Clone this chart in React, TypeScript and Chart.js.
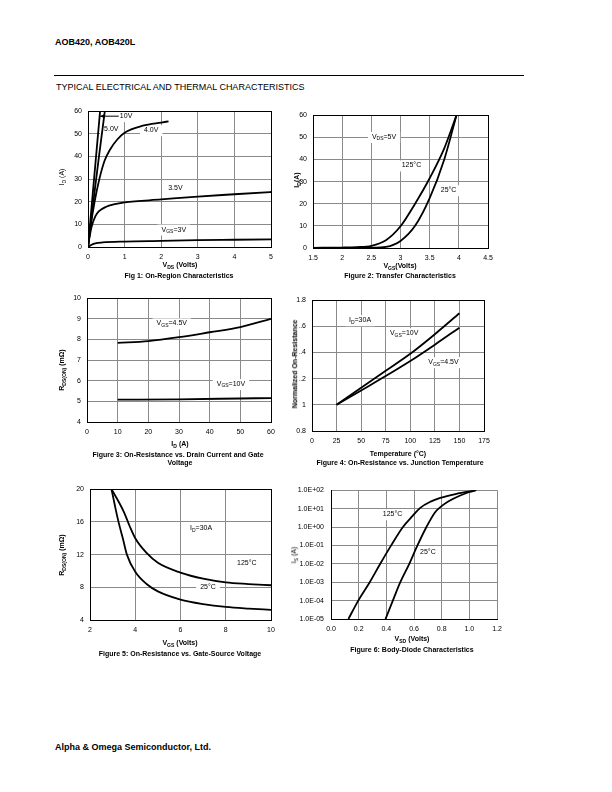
import React, { useEffect, useRef } from "react";
import { Chart, registerables } from "chart.js";
Chart.register(...registerables);

const FONT = '"Liberation Sans", Arial, Helvetica, sans-serif';
const GRID = "#8a8a8a";

// ---------- Fig 1: On-Region Characteristics ----------
const fig1XTicks = [0, 1, 2, 3, 4, 5];
const fig1XLabels = ["0", "1", "2", "3", "4", "5"];
const fig1YTicks = [0, 10, 20, 30, 40, 50, 60];
const fig1YLabels = ["0", "10", "20", "30", "40", "50", "60"];
const fig1Vds10V = [0, 0.165, 0.33];
const fig1Id10V = [0, 30, 60];
const fig1Vds5V = [0, 0.15, 0.3, 0.46];
const fig1Id5V = [0, 20.5, 40, 60];
const fig1Vds4V = [0, 0.08, 0.18, 0.31, 0.45, 0.6, 0.8, 1.0, 1.5, 2.0, 2.2];
const fig1Id4V = [0, 10, 20, 30, 38, 43, 47.5, 50.5, 53.6, 55, 55.5];
const fig1Vds35V = [0, 0.05, 0.1, 0.2, 0.3, 0.5, 0.7, 1, 2, 3, 4, 5];
const fig1Id35V = [0, 5, 9, 13.5, 15.8, 17.8, 18.8, 19.7, 21, 22.3, 23.3, 24.3];
const fig1Vds3V = [0, 0.1, 0.2, 0.4, 1, 2, 3, 4, 5];
const fig1Id3V = [0, 1.0, 1.6, 2.0, 2.4, 2.7, 3.0, 3.2, 3.4];

// ---------- Fig 2: Transfer Characteristics ----------
const fig2XTicks = [1.5, 2, 2.5, 3, 3.5, 4, 4.5];
const fig2XLabels = ["1.5", "2", "2.5", "3", "3.5", "4", "4.5"];
const fig2YTicks = [0, 10, 20, 30, 40, 50, 60];
const fig2YLabels = ["0", "10", "20", "30", "40", "50", "60"];
const fig2Vgs125 = [1.5, 2.0, 2.25, 2.5, 2.75, 3.0, 3.25, 3.5, 3.75, 3.96];
const fig2Id125 = [0.1, 0.2, 0.4, 1.0, 3.5, 9.8, 20, 31.5, 45, 60];
const fig2Vgs25 = [1.5, 2.5, 2.75, 3.0, 3.25, 3.5, 3.75, 3.96];
const fig2Id25 = [0, 0.1, 0.5, 3.2, 10, 22.5, 40, 60];

// ---------- Fig 3: On-Resistance vs Drain Current ----------
const fig3XTicks = [0, 10, 20, 30, 40, 50, 60];
const fig3XLabels = ["0", "10", "20", "30", "40", "50", "60"];
const fig3YTicks = [4, 5, 6, 7, 8, 9, 10];
const fig3YLabels = ["4", "5", "6", "7", "8", "9", "10"];
const fig3Id45V = [10, 20, 30, 40, 50, 60];
const fig3Rds45V = [7.83, 7.92, 8.11, 8.35, 8.6, 9.0];
const fig3Id10V = [10, 30, 50, 60];
const fig3Rds10V = [5.08, 5.1, 5.14, 5.16];

// ---------- Fig 4: On-Resistance vs Junction Temperature ----------
const fig4XTicks = [0, 25, 50, 75, 100, 125, 150, 175];
const fig4XLabels = ["0", "25", "50", "75", "100", "125", "150", "175"];
const fig4YTicks = [0.8, 1, 1.2, 1.4, 1.6, 1.8];
const fig4YLabels = ["0.8", "1", "1.2", "1.4", "1.6", "1.8"];
const fig4Temp = [25, 50, 75, 100, 125, 150];
const fig4Norm10V = [1.0, 1.13, 1.26, 1.39, 1.54, 1.7];
const fig4Norm45V = [1.0, 1.11, 1.22, 1.335, 1.46, 1.59];

// ---------- Fig 5: On-Resistance vs Gate-Source Voltage ----------
const fig5XTicks = [2, 4, 6, 8, 10];
const fig5XLabels = ["2", "4", "6", "8", "10"];
const fig5YTicks = [4, 8, 12, 16, 20];
const fig5YLabels = ["4", "8", "12", "16", "20"];
const fig5Vgs125 = [2.95, 3.2, 3.5, 3.75, 4, 4.5, 5, 6, 7, 8, 9, 10];
const fig5Rds125 = [20, 18.8, 17.2, 15.5, 14, 12.2, 11, 9.8, 9.05, 8.6, 8.4, 8.25];
const fig5Vgs25 = [2.95, 3.1, 3.26, 3.45, 3.63, 4.0, 4.5, 5, 6, 7, 8, 9, 10];
const fig5Rds25 = [20, 18, 16, 14, 12, 9.9, 8.4, 7.5, 6.5, 5.95, 5.6, 5.4, 5.25];

// ---------- Fig 6: Body-Diode Characteristics ----------
const fig6XTicks = [0, 0.2, 0.4, 0.6, 0.8, 1.0, 1.2];
const fig6XLabels = ["0.0", "0.2", "0.4", "0.6", "0.8", "1.0", "1.2"];
const fig6YTicks = [1e-5, 1e-4, 1e-3, 1e-2, 1e-1, 1, 10, 100];
const fig6YLabels = ["1.0E-05", "1.0E-04", "1.0E-03", "1.0E-02", "1.0E-01", "1.0E+00", "1.0E+01", "1.0E+02"];
const fig6Vsd125 = [0.126, 0.197, 0.28, 0.356, 0.435, 0.52, 0.59, 0.645, 0.72, 0.79, 0.9, 1.05];
const fig6Is125 = [1e-5, 1e-4, 1e-3, 1e-2, 1e-1, 1, 4, 11, 24, 38, 62, 100];
const fig6Vsd25 = [0.394, 0.447, 0.501, 0.566, 0.625, 0.69, 0.75, 0.79, 0.85, 0.93, 1.0, 1.05];
const fig6Is25 = [1e-5, 1e-4, 1e-3, 1e-2, 1e-1, 1, 6, 12, 25, 50, 80, 100];

// ---------- helpers ----------
type Part = { t: string; sub?: boolean };
type Note = { x: number; y: number; parts: Part[] };
type Arrow = { x1: number; y1: number; x2: number; y2: number };
type Box = { l: number; t: number; r: number; b: number };

const PADL = 50, PADT = 8, PADR = 16, PADB = 22;

const V = (rest: string, sub: string, pre = "V"): Part[] => [{ t: pre }, { t: sub, sub: true }, { t: rest }];

function notesPlugin(notes: Note[], frame: string | null, arrows: Arrow[] = []) {
  return {
    id: "notes",
    beforeDatasetsDraw(chart: any) {
      const ctx = chart.ctx;
      const xs = chart.scales.x, ys = chart.scales.y;
      const ca = chart.chartArea;
      ctx.save();
      for (const n of notes) {
        const px = xs.getPixelForValue(n.x), py = ys.getPixelForValue(n.y);
        let w = 0;
        for (const p of n.parts) {
          ctx.font = p.sub ? `5px ${FONT}` : `7px ${FONT}`;
          w += ctx.measureText(p.t).width;
        }
        ctx.fillStyle = "#fff";
        ctx.fillRect(px - 4, py - 5, w + 8, 11);
        let cx = px;
        ctx.fillStyle = "#000";
        ctx.textBaseline = "middle";
        ctx.textAlign = "left";
        for (const p of n.parts) {
          ctx.font = p.sub ? `5px ${FONT}` : `7px ${FONT}`;
          ctx.fillText(p.t, cx, p.sub ? py + 2 : py);
          cx += ctx.measureText(p.t).width;
        }
      }
      if (frame) {
        ctx.strokeStyle = frame;
        ctx.lineWidth = 1;
        const l = Math.round(ca.left) + 0.5, t = Math.round(ca.top) + 0.5;
        ctx.strokeRect(l, t, Math.round(ca.right) - Math.round(ca.left), Math.round(ca.bottom) - Math.round(ca.top));
      }
      ctx.restore();
    },
    afterDatasetsDraw(chart: any) {
      const ctx = chart.ctx;
      const xs = chart.scales.x, ys = chart.scales.y;
      ctx.save();
      ctx.strokeStyle = "#000";
      ctx.fillStyle = "#000";
      ctx.lineWidth = 1;
      for (const a of arrows) {
        const x1 = xs.getPixelForValue(a.x1), y1 = ys.getPixelForValue(a.y1);
        const x2 = xs.getPixelForValue(a.x2), y2 = ys.getPixelForValue(a.y2);
        ctx.beginPath();
        ctx.moveTo(x1, y1);
        ctx.lineTo(x2, y2);
        ctx.stroke();
        const ang = Math.atan2(y2 - y1, x2 - x1);
        ctx.beginPath();
        ctx.moveTo(x2, y2);
        ctx.lineTo(x2 - 5 * Math.cos(ang - 0.45), y2 - 5 * Math.sin(ang - 0.45));
        ctx.lineTo(x2 - 5 * Math.cos(ang + 0.45), y2 - 5 * Math.sin(ang + 0.45));
        ctx.closePath();
        ctx.fill();
      }
      ctx.restore();
    },
  };
}

function axis(pos: "x" | "y", min: number, max: number, vals: number[], labels: string[], pad: number, type = "linear") {
  return {
    type,
    min,
    max,
    position: pos === "x" ? "bottom" : "left",
    grid: { color: GRID, lineWidth: 1, drawTicks: false },
    border: { display: true, color: "#000", width: 1 },
    ticks: {
      autoSkip: false,
      maxRotation: 0,
      minRotation: 0,
      padding: pad,
      color: "#000",
      font: { family: FONT, size: 7 },
      callback: (_v: any, i: number) => labels[i],
    },
    afterBuildTicks: (s: any) => {
      s.ticks = vals.map((value) => ({ value }));
    },
    afterFit: (s: any) => {
      if (pos === "x") s.height = PADB;
      else s.width = PADL;
    },
  };
}

function series(xs: number[], ys: number[]) {
  return {
    data: xs.map((x, i) => ({ x, y: ys[i] })),
    borderColor: "#000",
    borderWidth: 1.8,
    pointRadius: 0,
    fill: false,
    cubicInterpolationMode: "monotone",
  };
}

function config(datasets: any[], x: any, y: any, plugin: any) {
  return {
    type: "line",
    data: { datasets },
    options: {
      responsive: false,
      animation: false,
      events: [],
      layout: { padding: { left: 0, top: PADT, right: PADR, bottom: 0 } },
      plugins: { legend: { display: false }, tooltip: { enabled: false } },
      scales: { x, y },
    },
    plugins: [plugin],
  };
}

function PlotCanvas({ box, make }: { box: Box; make: () => any }) {
  const ref = useRef<HTMLCanvasElement>(null);
  useEffect(() => {
    const c = new Chart(ref.current as HTMLCanvasElement, make());
    return () => c.destroy();
  }, []);
  const w = box.r - box.l + PADL + PADR;
  const h = box.b - box.t + PADT + PADB;
  return (
    <canvas
      ref={ref}
      width={w}
      height={h}
      style={{ position: "absolute", left: box.l - PADL, top: box.t - PADT, width: w, height: h }}
    />
  );
}

const Sub = ({ children }: { children: React.ReactNode }) => (
  <span style={{ fontSize: "0.72em", position: "relative", top: "0.3em" }}>{children}</span>
);

function Txt({
  x, y, children, bold = true, size = 7, rot = false, left = false, bg = false,
}: {
  x: number; y: number; children: React.ReactNode; bold?: boolean; size?: number; rot?: boolean; left?: boolean; bg?: boolean;
}) {
  const tr = left ? "translate(0,-50%)" : rot ? "translate(-50%,-50%) rotate(-90deg)" : "translate(-50%,-50%)";
  return (
    <div
      style={{
        position: "absolute",
        left: x,
        top: y,
        transform: tr,
        whiteSpace: "nowrap",
        fontFamily: FONT,
        fontSize: size,
        fontWeight: bold ? "bold" : "normal",
        lineHeight: 1.1,
        color: "#000",
        background: bg ? "#fff" : "transparent",
        zIndex: 2,
      }}
    >
      {children}
    </div>
  );
}

const B1: Box = { l: 88, t: 109, r: 271, b: 247 };
const B2: Box = { l: 313, t: 113, r: 488, b: 248 };
const B3: Box = { l: 87, t: 296, r: 271, b: 422 };
const B4: Box = { l: 312, t: 298, r: 484, b: 431 };
const B5: Box = { l: 90, t: 487, r: 271, b: 620 };
const B6: Box = { l: 331, t: 487, r: 497, b: 619 };

const make1 = () =>
  config(
    [
      series(fig1Vds10V, fig1Id10V),
      series(fig1Vds5V, fig1Id5V),
      series(fig1Vds4V, fig1Id4V),
      series(fig1Vds35V, fig1Id35V),
      series(fig1Vds3V, fig1Id3V),
    ],
    axis("x", 0, 5, fig1XTicks, fig1XLabels, 6),
    axis("y", 0, 60, fig1YTicks, fig1YLabels, 6),
    notesPlugin(
      [
        { x: 0.87, y: 57.8, parts: [{ t: "10V" }] },
        { x: 0.44, y: 52.3, parts: [{ t: "5.0V" }] },
        { x: 1.53, y: 51.6, parts: [{ t: "4.0V" }] },
        { x: 2.19, y: 26, parts: [{ t: "3.5V" }] },
        { x: 2.01, y: 7.7, parts: V("=3V", "GS") },
      ],
      "#000",
      [{ x1: 0.84, y1: 57.8, x2: 0.33, y2: 57.8 }]
    )
  );

const make2 = () =>
  config(
    [series(fig2Vgs125, fig2Id125), series(fig2Vgs25, fig2Id25)],
    axis("x", 1.5, 4.5, fig2XTicks, fig2XLabels, 6),
    axis("y", 0, 60, fig2YTicks, fig2YLabels, 6),
    notesPlugin(
      [
        { x: 2.51, y: 50.2, parts: V("=5V", "DS") },
        { x: 3.02, y: 37.3, parts: [{ t: "125°C" }] },
        { x: 3.69, y: 26.1, parts: [{ t: "25°C" }] },
      ],
      "#000"
    )
  );

const make3 = () =>
  config(
    [series(fig3Id45V, fig3Rds45V), series(fig3Id10V, fig3Rds10V)],
    axis("x", 0, 60, fig3XTicks, fig3XLabels, 6),
    axis("y", 4, 10, fig3YTicks, fig3YLabels, 6),
    notesPlugin(
      [
        { x: 22.7, y: 8.78, parts: V("=4.5V", "GS") },
        { x: 42.3, y: 5.84, parts: V("=10V", "GS") },
      ],
      "#000"
    )
  );

const make4 = () =>
  config(
    [series(fig4Temp, fig4Norm10V), series(fig4Temp, fig4Norm45V)],
    axis("x", 0, 175, fig4XTicks, fig4XLabels, 6),
    axis("y", 0.8, 1.8, fig4YTicks, fig4YLabels, 6),
    notesPlugin(
      [
        { x: 37.6, y: 1.647, parts: V("=30A", "D", "I") },
        { x: 79.3, y: 1.547, parts: V("=10V", "GS") },
        { x: 118.3, y: 1.326, parts: V("=4.5V", "GS") },
      ],
      "#000"
    )
  );

const make5 = () =>
  config(
    [series(fig5Vgs125, fig5Rds125), series(fig5Vgs25, fig5Rds25)],
    axis("x", 2, 10, fig5XTicks, fig5XLabels, 6),
    axis("y", 4, 20, fig5YTicks, fig5YLabels, 6),
    notesPlugin(
      [
        { x: 6.42, y: 15.22, parts: V("=30A", "D", "I") },
        { x: 8.5, y: 11.0, parts: [{ t: "125°C" }] },
        { x: 6.87, y: 8.09, parts: [{ t: "25°C" }] },
      ],
      "#000"
    )
  );

const make6 = () =>
  config(
    [series(fig6Vsd125, fig6Is125), series(fig6Vsd25, fig6Is25)],
    axis("x", 0, 1.2, fig6XTicks, fig6XLabels, 6),
    axis("y", 1e-5, 100, fig6YTicks, fig6YLabels, 7, "logarithmic"),
    notesPlugin(
      [
        { x: 0.374, y: 4.9, parts: [{ t: "125°C" }] },
        { x: 0.644, y: 0.046, parts: [{ t: "25°C" }] },
      ],
      null
    )
  );

export default function App() {
  return (
    <div style={{ position: "absolute", left: 0, top: 0, width: 612, height: 792, background: "#fff", overflow: "hidden" }}>
      <Txt x={55} y={43} left size={9}>AOB420, AOB420L</Txt>
      <div style={{ position: "absolute", left: 54, top: 75, width: 470, height: 1, background: "#000" }} />
      <Txt x={56} y={88} left size={9} bold={false}>TYPICAL ELECTRICAL AND THERMAL CHARACTERISTICS</Txt>

      <PlotCanvas box={B1} make={make1} />
      <PlotCanvas box={B2} make={make2} />
      <PlotCanvas box={B3} make={make3} />
      <PlotCanvas box={B4} make={make4} />
      <PlotCanvas box={B5} make={make5} />
      <PlotCanvas box={B6} make={make6} />

      {/* Fig 1 */}
      <Txt x={62} y={177} rot bold={false}>I<Sub>D</Sub> (A)</Txt>
      <Txt x={180} y={265}>V<Sub>DS</Sub> (Volts)</Txt>
      <Txt x={179} y={276}>Fig 1: On-Region Characteristics</Txt>

      {/* Fig 2 */}
      <Txt x={297} y={180} rot>I<Sub>D</Sub>(A)</Txt>
      <Txt x={400} y={266}>V<Sub>GS</Sub>(Volts)</Txt>
      <Txt x={400} y={276}>Figure 2: Transfer Characteristics</Txt>

      {/* Fig 3 */}
      <Txt x={62} y={370} rot>R<Sub>DS(ON)</Sub> (mΩ)</Txt>
      <Txt x={180} y={444}>I<Sub>D</Sub> (A)</Txt>
      <Txt x={178} y={455}>Figure 3: On-Resistance vs. Drain Current and Gate</Txt>
      <Txt x={180} y={463}>Voltage</Txt>

      {/* Fig 4 */}
      <Txt x={295} y={364} rot bg>Normalized On-Resistance</Txt>
      <Txt x={398} y={454}>Temperature (°C)</Txt>
      <Txt x={400} y={463}>Figure 4: On-Resistance vs. Junction Temperature</Txt>

      {/* Fig 5 */}
      <Txt x={62} y={555} rot>R<Sub>DS(ON)</Sub> (mΩ)</Txt>
      <Txt x={180} y={643}>V<Sub>GS</Sub> (Volts)</Txt>
      <Txt x={180} y={654}>Figure 5: On-Resistance vs. Gate-Source Voltage</Txt>

      {/* Fig 6 */}
      <Txt x={294} y={555} rot bold={false}>I<Sub>S</Sub> (A)</Txt>
      <Txt x={412} y={639}>V<Sub>SD</Sub> (Volts)</Txt>
      <Txt x={412} y={650}>Figure 6: Body-Diode Characteristics</Txt>

      <Txt x={55} y={748} left size={9}>Alpha &amp; Omega Semiconductor, Ltd.</Txt>
    </div>
  );
}
